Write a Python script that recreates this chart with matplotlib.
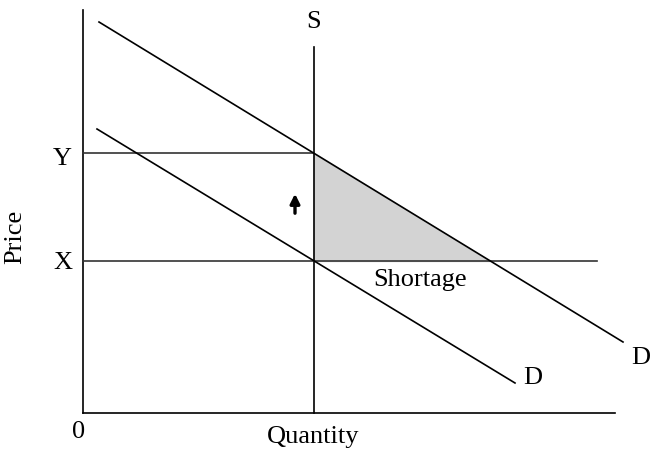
import numpy as np
import matplotlib.pyplot as plt

plt.rcParams['font.family'] = ['Liberation Serif', 'DejaVu Serif']

# Niveles de precio y cantidad
q_supply = 23.1
p_top_supply = 36.6
price_y = 26.0
price_x = 15.2
q_max = 53.2
p_max = 40.3
q_x_line_end = 51.4

# Curvas de demanda (extremos)
d1_q = [1.6, 54.0]
d1_p = [39.1, 7.1]
d2_q = [1.4, 43.2]
d2_p = [28.4, 3.0]

# Triángulo de escasez
short_q = [q_supply, q_supply, 40.7]
short_p = [price_y, price_x, price_x]

fig = plt.figure(figsize=(6.53, 4.5), dpi=100)
ax = fig.add_axes([0, 0, 1, 1])
ax.set_xlim(-8.3, 57.0)
ax.set_ylim(-3.7, 41.3)
ax.axis('off')

lw = 1.2
# Ejes
ax.plot([0, 0], [0, p_max], color='black', lw=lw)
ax.plot([0, q_max], [0, 0], color='black', lw=lw)

ax.fill(short_q, short_p, color='#d3d3d3', zorder=1)

ax.plot([q_supply, q_supply], [0, p_top_supply], color='black', lw=lw)
ax.plot([0, q_supply], [price_y, price_y], color='#333333', lw=lw)
ax.plot([0, q_x_line_end], [price_x, price_x], color='#333333', lw=lw)
ax.plot(d1_q, d1_p, color='black', lw=lw)
ax.plot(d2_q, d2_p, color='black', lw=lw)

ax.annotate('', xy=(21.2, 22.2), xytext=(21.2, 19.7),
            arrowprops=dict(arrowstyle='-|>', color='black', lw=2.4,
                            mutation_scale=14))

fs = 19
ax.text(q_supply, 39.1, 'S', fontsize=fs, ha='center', va='center')
ax.text(-1.1, price_y - 0.6, 'Y', fontsize=fs, ha='right', va='center')
ax.text(-1.1, price_x - 0.2, 'X', fontsize=fs, ha='right', va='center')
ax.text(-0.4, -1.9, '0', fontsize=fs, ha='center', va='center')
ax.text(55.8, 5.5, 'D', fontsize=fs, ha='center', va='center')
ax.text(45.0, 3.5, 'D', fontsize=fs, ha='center', va='center')
ax.text(33.7, 13.3, 'Shortage', fontsize=fs, ha='center', va='center')
ax.text(23.0, -2.4, 'Quantity', fontsize=fs, ha='center', va='center')
ax.text(-6.8, 17.6, 'Price', fontsize=fs, ha='center', va='center', rotation=90)

plt.savefig('out.png', dpi=100)
